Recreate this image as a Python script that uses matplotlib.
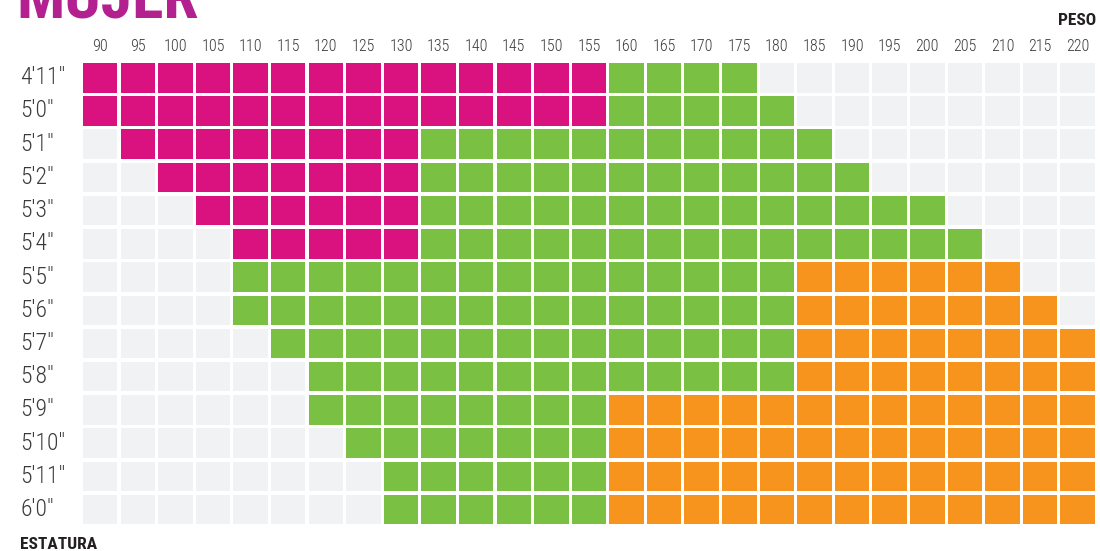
import matplotlib
matplotlib.use("Agg")
import matplotlib.pyplot as plt
from matplotlib import font_manager
from matplotlib.transforms import blended_transform_factory

# ── Data ──────────────────────────────────────────────────────────────────────
weights = [90, 95, 100, 105, 110, 115, 120, 125, 130, 135, 140, 145, 150, 155,
           160, 165, 170, 175, 180, 185, 190, 195, 200, 205, 210, 215, 220]
heights = ["4'11\"", "5'0\"", "5'1\"", "5'2\"", "5'3\"", "5'4\"", "5'5\"",
           "5'6\"", "5'7\"", "5'8\"", "5'9\"", "5'10\"", "5'11\"", "6'0\""]

# cells per row, left to right: empty, pink (bajo peso), green (normal), orange (sobrepeso)
lead_empty = [0, 0, 1, 2, 3, 4, 4, 4, 5, 6, 6, 7, 8, 8]
n_pink     = [14, 14, 8, 7, 6, 5, 0, 0, 0, 0, 0, 0, 0, 0]
n_green    = [4, 5, 11, 12, 14, 15, 15, 15, 14, 13, 8, 7, 6, 6]
n_orange   = [0, 0, 0, 0, 0, 0, 6, 7, 8, 8, 13, 13, 13, 13]


# ── Pick a narrow font if one is installed ───────────────────────────────────
def pick_font(cands):
    names = {f.name for f in font_manager.fontManager.ttflist}
    for c in cands:
        if c in names:
            return c
    return "DejaVu Sans"

NARROW = pick_font(["Liberation Sans Narrow", "Roboto Condensed",
                    "DejaVu Sans Condensed", "Open Sans Condensed",
                    "Noto Sans Condensed", "Liberation Sans"])
FONT = [NARROW, "DejaVu Sans"]

# ── Style ─────────────────────────────────────────────────────────────────────
EMPTY  = "#f1f2f4"
PINK   = "#d9127f"
GREEN  = "#7ac143"
ORANGE = "#f7941d"
TEXT   = "#3a3a3a"
CELL_W = 0.917
CELL_H = 0.89

fig = plt.figure(figsize=(11, 5.51), dpi=100)
ax = fig.add_axes([83 / 1100, 23 / 551, 1015 / 1100, 465 / 551])

ncol = len(weights)
for r, h in enumerate(heights):
    colors = ([EMPTY] * lead_empty[r] + [PINK] * n_pink[r] +
              [GREEN] * n_green[r] + [ORANGE] * n_orange[r])
    colors += [EMPTY] * (ncol - len(colors))
    ax.barh([r] * ncol, [CELL_W] * ncol, left=range(ncol), height=CELL_H,
            align="edge", color=colors, linewidth=0)

ax.set_xlim(0, ncol)
ax.set_ylim(len(heights), 0)
ax.axis("off")

# column labels (weight)
for i, w in enumerate(weights):
    ax.text(i + CELL_W / 2, -0.5, str(w), ha="center", va="center",
            fontsize=11.5, fontweight="light", color=TEXT, family=FONT)

# row labels (height)
trans = blended_transform_factory(fig.transFigure, ax.transData)
for r, h in enumerate(heights):
    ax.text(20 / 1100, r + CELL_H / 2, h, transform=trans,
            ha="left", va="center", fontsize=17, fontweight="light",
            color=TEXT, family=FONT)

fig.text(16 / 1100, 1 - 17 / 551, "MUJER", ha="left", va="baseline",
         fontsize=46, fontweight="bold", color="#b3208f", family=FONT)
fig.text(1096 / 1100, 1 - 25 / 551, "PESO", ha="right", va="baseline",
         fontsize=12.5, fontweight="bold", color="#231f20", family=FONT)
fig.text(20 / 1100, 1 - 549 / 551, "ESTATURA", ha="left", va="baseline",
         fontsize=12.5, fontweight="bold", color="#231f20", family=FONT)

fig.savefig("out.png", dpi=100, facecolor="white")
plt.close(fig)
